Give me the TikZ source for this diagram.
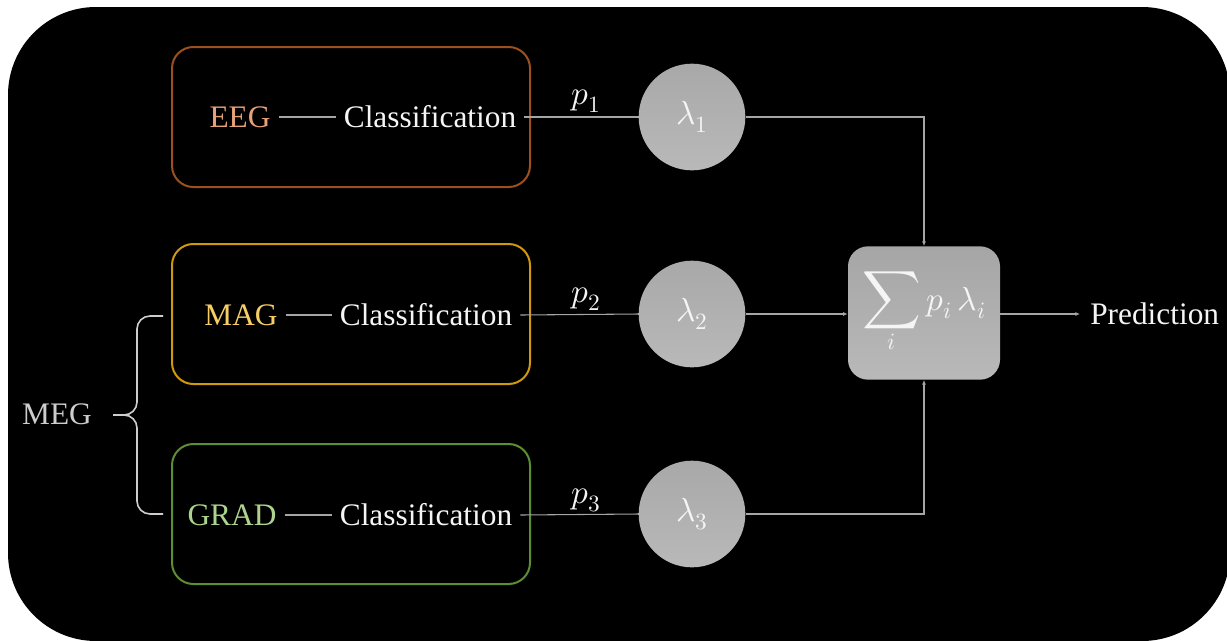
\documentclass[tikz,border=0pt]{standalone}
\usepackage{fontspec}
\usepackage{unicode-math}
\setmainfont{Liberation Serif}
\usepackage{graphicx}
\usetikzlibrary{arrows.meta}

\definecolor{eegline}{RGB}{158,80,28}
\definecolor{eegtext}{RGB}{232,162,120}
\definecolor{magline}{RGB}{210,152,12}
\definecolor{magtext}{RGB}{246,206,100}
\definecolor{gradline}{RGB}{92,142,52}
\definecolor{gradtext}{RGB}{172,212,142}
\definecolor{wire}{RGB}{165,165,165}
\definecolor{ink}{RGB}{245,245,245}
\definecolor{megtext}{RGB}{205,205,205}

\tikzset{
  sig/.style={draw=#1, line width=1.5pt, rounded corners=16pt,
    minimum width=268.5pt, minimum height=105pt},
  lbl/.style={text=#1, font=\fontsize{23.5}{27}\selectfont, inner sep=6pt},
  wt/.style={circle, minimum size=80pt, inner sep=0pt, top color=gray!68, bottom color=gray!55,
    text=ink, font=\fontsize{25}{28}\selectfont},
  wire/.style={draw=wire, line width=0.8pt},
  tip/.style={wire, -{Latex[length=3.5pt,width=3pt]}},
  plbl/.style={text=ink, font=\fontsize{25}{28}\selectfont, inner sep=0pt},
}

\begin{document}
\begin{tikzpicture}[x=0.75pt,y=-0.75pt]
  % page and dark panel
  \fill[white] (0,0) rectangle (1227,640);
  \useasboundingbox (0,0) rectangle (1227,640);
  \begin{scope}
    \clip (0,0) rectangle (1227,640);
    \fill[black, rounded corners=66pt] (8,7) rectangle (1230,641);
  \end{scope}

  % modality boxes
  \node[sig=eegline]  (eegbox)  at (351,117) {};
  \node[sig=magline]  (magbox)  at (351,314) {};
  \node[sig=gradline] (gradbox) at (351,514) {};

  % modality labels and classifiers
  \node[lbl=eegtext]  (eeg)  at (240,117) {EEG};
  \node[lbl=magtext]  (mag)  at (241,315) {MAG};
  \node[lbl=gradtext] (grad) at (232,515) {GRAD};
  \node[lbl=ink] (cls1) at (430,117) {Classification};
  \node[lbl=ink] (cls2) at (426,315) {Classification};
  \node[lbl=ink] (cls3) at (426,515) {Classification};

  \draw[wire] (eeg.east)  -- (cls1.west);
  \draw[wire] (mag.east)  -- (cls2.west);
  \draw[wire] (grad.east) -- (cls3.west);

  % weights
  \node[wt] (w1) at (692,117) {$\lambda_1$};
  \node[wt] (w2) at (692,314) {$\lambda_2$};
  \node[wt] (w3) at (692,514) {$\lambda_3$};

  \draw[wire] (cls1.east) -- (w1.west);
  \draw[wire] (cls2.east) -- (w2.west);
  \draw[wire] (cls3.east) -- (w3.west);

  \node[plbl] (p1) at (586,101) {$p_1$};
  \node[plbl] (p2) at (586,299) {$p_2$};
  \node[plbl] (p3) at (586,500) {$p_3$};

  % weighted sum
  \node[rounded corners=15pt, minimum width=114pt, minimum height=100pt,
        top color=gray!70, bottom color=gray!55, text=ink, inner sep=0pt,
        font=\fontsize{25}{28}\selectfont] (sum) at (924,313)
        {$\mathop{\scalebox{1.22}{$\displaystyle\sum$}}\limits_{i} p_i\,\lambda_i$};

  \draw[tip] (w1.east) -| (sum.north);
  \draw[tip] (w2.east) -- (w2.east -| sum.west);
  \draw[tip] (w3.east) -| (sum.south);

  \node[lbl=ink, anchor=west, inner sep=0pt] (pred) at (1090,314) {Prediction};
  \coordinate (predin) at (1080,314);
  \draw[tip] (sum.east |- predin) -- (predin);

  % MEG grouping brace
  \node[lbl=megtext] (meg) at (57,414) {MEG};
  \coordinate (bt) at (163,316);
  \coordinate (bb) at (163,514);
  \coordinate (bm) at (113,415);
  \draw[draw=megtext, line width=1.2pt]
    (bt) -- (150,316) to[out=180,in=90] (137,329) -- (137,402)
    to[out=-90,in=0] (124,415) -- (bm)
    (bm) -- (124,415) to[out=0,in=90] (137,428) -- (137,501)
    to[out=-90,in=180] (150,514) -- (bb);
\end{tikzpicture}
\end{document}
